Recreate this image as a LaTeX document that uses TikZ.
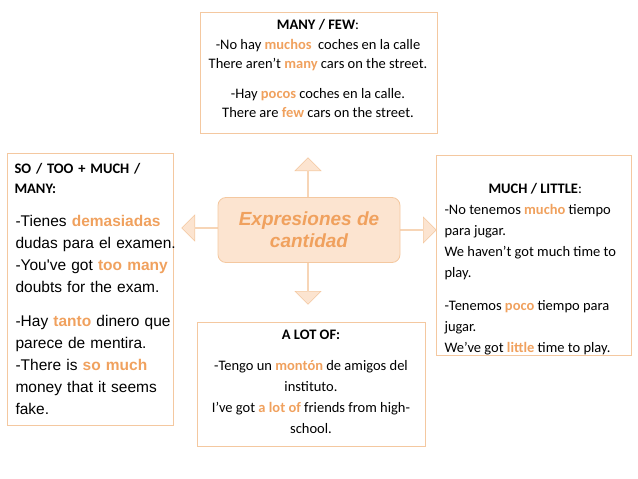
\documentclass[tikz,border=0pt]{standalone}
\usepackage{fontspec}
\setmainfont{Carlito}
\newfontfamily\arialfont{Liberation Sans}
\usetikzlibrary{shapes.arrows}
\definecolor{orng}{HTML}{F0A15E}
\definecolor{edge}{HTML}{F4C8A0}
\definecolor{pale}{HTML}{FCE4D0}
\newcommand{\hl}[1]{\textcolor{orng}{\textbf{#1}}}
\begin{document}
\begin{tikzpicture}[x=1pt,y=-1pt,
    infobox/.style={draw=edge,line width=0.8pt,inner sep=0pt},
    blockarrow/.style={single arrow,fill=pale,draw=edge,line width=0.6pt,minimum height=42pt,
      single arrow head extend=6pt,minimum width=26pt,inner sep=0pt,anchor=tail}]
\useasboundingbox (0,0) rectangle (638,479);
% content boxes
\draw[infobox] (200,12) rectangle (437,133);
\draw[infobox] (7,153) rectangle (173,425);
\draw[infobox] (436,155) rectangle (631,355);
\draw[infobox] (197,322) rectangle (425,446);
% arrows out of the centre
\node[blockarrow,rotate=90] (up) at (308,200) {};
\node[blockarrow,rotate=-90] (down) at (308,262) {};
\node[blockarrow,minimum height=38pt] (right) at (398,230) {};
\node[blockarrow,rotate=180,minimum height=38pt] (left) at (220,228) {};
\node[draw=edge,fill=pale,line width=0.8pt,rounded corners=8pt,minimum width=182pt,minimum height=65pt,
  align=center,font=\arialfont\bfseries\itshape\fontsize{19}{22}\selectfont,text=orng] (main) at (309,230)
  {Expresiones de\\cantidad};
% texts
\node[align=center,font=\fontsize{14.5}{19.5}\selectfont,anchor=north] (many) at (318,16)
  {\textbf{MANY / FEW}:\\-No hay \hl{muchos}\ \ coches en la calle\\There aren't \hl{many} cars on the street.\\[10pt]
   -Hay \hl{pocos} coches en la calle.\\There are \hl{few} cars on the street.};
\node[align=left,font=\fontsize{14.5}{20}\selectfont,anchor=north west,text width=160pt] (sotoo) at (11,160)
  {\textbf{SO / TOO + MUCH / MANY:}};
\node[align=left,font=\arialfont\fontsize{15.5}{22}\selectfont,anchor=north west,text width=175pt] (soex) at (12,212)
  {-Tienes \hl{demasiadas}\\dudas para el examen.\\-You've got \hl{too many}\\doubts for the exam.\\[12pt]
   -Hay \hl{tanto} dinero que\\parece de mentira.\\-There is \hl{so much}\\money that it seems\\fake.};
\node[align=left,font=\fontsize{14.5}{21}\selectfont,anchor=north west] (much) at (441,180)
  {\hspace*{44pt}\textbf{MUCH / LITTLE}:\\-No tenemos \hl{mucho} tiempo\\para jugar.\\We haven’t got much time to\\play.\\[12pt]
   -Tenemos \hl{poco} tiempo para\\jugar.\\We've got \hl{little} time to play.};
\node[align=center,font=\fontsize{14.5}{21}\selectfont,anchor=north] (alot) at (311,326)
  {\textbf{A LOT OF:}\\[10pt]-Tengo un \hl{montón} de amigos del\\instituto.\\I've got \hl{a lot of} friends from high-\\school.};
\end{tikzpicture}
\end{document}
